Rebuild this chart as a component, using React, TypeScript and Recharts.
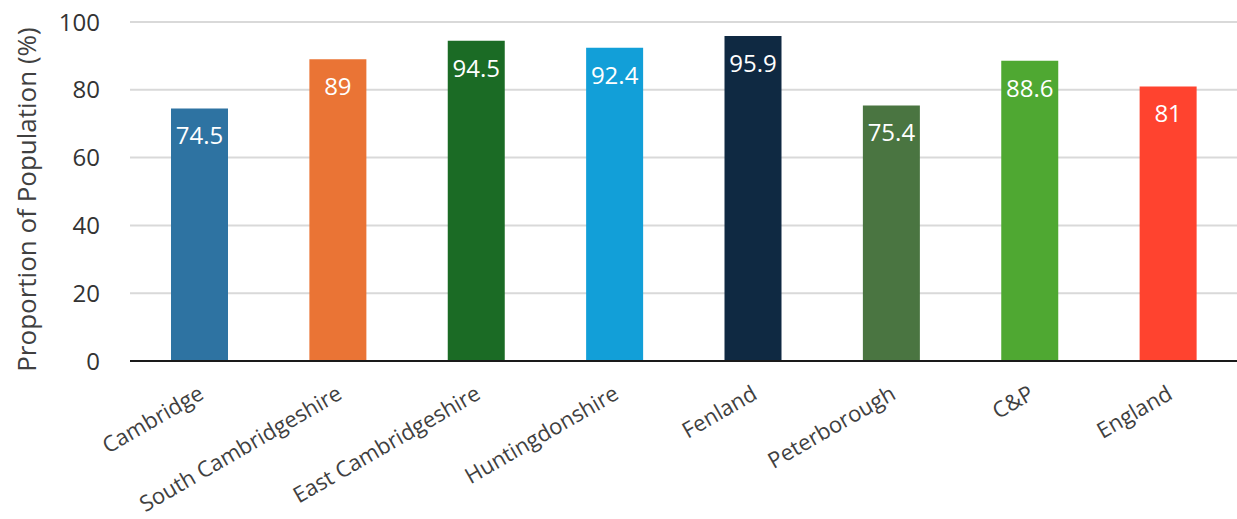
import React from 'react';
import { BarChart, Bar, XAxis, YAxis, CartesianGrid, Cell, LabelList } from 'recharts';

const AREAS = [
  'Cambridge',
  'South Cambridgeshire',
  'East Cambridgeshire',
  'Huntingdonshire',
  'Fenland',
  'Peterborough',
  'C&P',
  'England',
];
const PROPORTION = [74.5, 89, 94.5, 92.4, 95.9, 75.4, 88.6, 81];
const Y_TICKS = [0, 20, 40, 60, 80, 100];

const COLORS = ['#2E73A2', '#EA7435', '#1B6B25', '#129FD8', '#0F2942', '#4A7541', '#4FA832', '#FF432F'];

const FONT = '"Open Sans", "Noto Sans", sans-serif';

const data = AREAS.map((area, i) => ({ area, value: PROPORTION[i] }));

const AreaTick = (props: any) => {
  const { x, y, payload } = props;
  return (
    <g transform={`translate(${x + 2},${y + 22}) rotate(-30)`}>
      <text x={0} y={0} dy={8} textAnchor="end" fill="#404040" fontSize={22} fontFamily={FONT}>
        {payload.value}
      </text>
    </g>
  );
};

const AxisTitle = (props: any) => {
  const { viewBox } = props;
  const cx = viewBox.x + 26;
  const cy = viewBox.y + viewBox.height / 2 + 8;
  return (
    <text
      x={cx}
      y={cy}
      transform={`rotate(-90, ${cx}, ${cy})`}
      textAnchor="middle"
      dominantBaseline="central"
      fill="#404040"
      fontSize={26}
      fontFamily={FONT}
    >
      Proportion of Population (%)
    </text>
  );
};

export default function App() {
  return (
    <div style={{ position: 'absolute', left: 0, top: 0, background: '#fff' }}>
      <BarChart
        width={1237}
        height={519}
        data={data}
        margin={{ top: 22, right: 0, bottom: 8, left: 0 }}
      >
        <CartesianGrid vertical={false} stroke="#d9d9d9" strokeWidth={2} />
        <XAxis
          dataKey="area"
          interval={0}
          height={150}
          tick={<AreaTick />}
          tickLine={false}
          axisLine={{ stroke: '#1a1a1a', strokeWidth: 2 }}
        />
        <YAxis
          width={130}
          domain={[0, 100]}
          ticks={Y_TICKS}
          tickLine={false}
          tickSize={0}
          tickMargin={30}
          axisLine={false}
          tick={{ fill: '#333', fontSize: 24, fontFamily: FONT }}
          label={<AxisTitle />}
        />
        <Bar dataKey="value" barSize={57} isAnimationActive={false}>
          {data.map((d, i) => (
            <Cell key={d.area} fill={COLORS[i]} />
          ))}
          <LabelList
            dataKey="value"
            position="insideTop"
            offset={19}
            fill="#fff"
            fontSize={24}
            fontFamily={FONT}
          />
        </Bar>
      </BarChart>
    </div>
  );
}
